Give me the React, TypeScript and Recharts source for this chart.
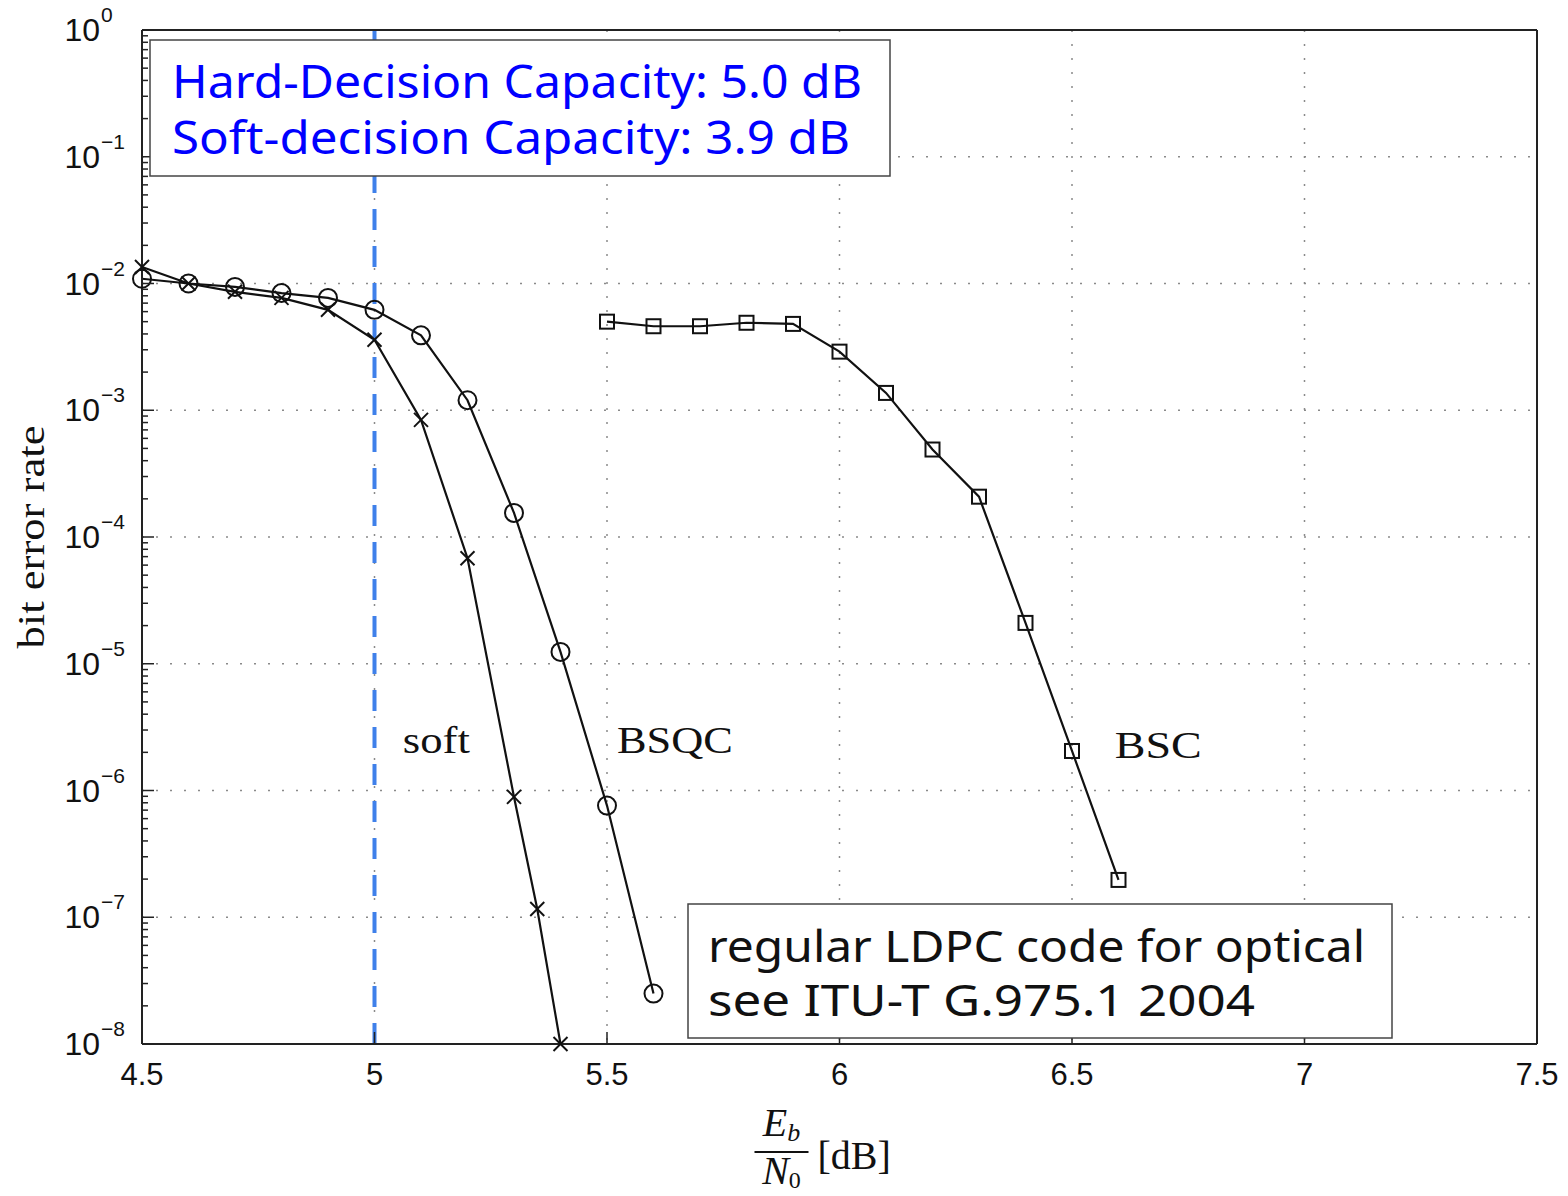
import React from 'react';
import { LineChart, Line, XAxis, YAxis, CartesianGrid, ReferenceLine, ReferenceDot } from 'recharts';

// Eb/N0 [dB] and bit error rate
const ebn0Soft = [4.5, 4.6, 4.7, 4.8, 4.9, 5.0, 5.1, 5.2, 5.3, 5.35, 5.4];
const berSoft = [1.35e-2, 1.0e-2, 8.6e-3, 7.7e-3, 6.2e-3, 3.6e-3, 8.4e-4, 6.8e-5, 8.9e-7, 1.16e-7, 1.0e-8];

const ebn0Bsqc = [4.5, 4.6, 4.7, 4.8, 4.9, 5.0, 5.1, 5.2, 5.3, 5.4, 5.5, 5.6];
const berBsqc = [1.09e-2, 1.0e-2, 9.4e-3, 8.4e-3, 7.7e-3, 6.2e-3, 3.9e-3, 1.2e-3, 1.55e-4, 1.24e-5, 7.6e-7, 2.5e-8];

const ebn0Bsc = [5.5, 5.6, 5.7, 5.8, 5.9, 6.0, 6.1, 6.2, 6.3, 6.4, 6.5, 6.6];
const berBsc = [5.0e-3, 4.6e-3, 4.6e-3, 4.9e-3, 4.8e-3, 2.9e-3, 1.37e-3, 4.9e-4, 2.08e-4, 2.1e-5, 2.05e-6, 1.97e-7];

const xTicks = [4.5, 5, 5.5, 6, 6.5, 7, 7.5];
const xTickLabels = ['4.5', '5', '5.5', '6', '6.5', '7', '7.5'];
const yMajorTicks = [1, 1e-1, 1e-2, 1e-3, 1e-4, 1e-5, 1e-6, 1e-7, 1e-8];
const yTickExponents = ['0', '\u22121', '\u22122', '\u22123', '\u22124', '\u22125', '\u22126', '\u22127', '\u22128'];
// MATLAB-style log minor ticks (2..9 x each decade)
const yMinorTicks = yMajorTicks.slice(1).flatMap((d) => [2, 3, 4, 5, 6, 7, 8, 9].map((m) => m * d));
const yTicks = [...yMajorTicks, ...yMinorTicks].sort((a, b) => a - b);

const capacityLine = 5.0;

const curveLabels = [
  { text: 'soft', x: 5.061, y: 1.98e-6, len: 67 },
  { text: 'BSQC', x: 5.5215, y: 1.98e-6, len: 116 },
  { text: 'BSC', x: 6.592, y: 1.8e-6, len: 87 },
];

const toPoints = (xs: number[], ys: number[]) => xs.map((x, i) => ({ ebn0: x, ber: ys[i] }));
const softData = toPoints(ebn0Soft, berSoft);
const bsqcData = toPoints(ebn0Bsqc, berBsqc);
const bscData = toPoints(ebn0Bsc, berBsc);

const sans = "'Liberation Sans', Arial, sans-serif";
const serif = "'Liberation Serif', 'Times New Roman', serif";
const comic = "'Comic Sans MS', 'Noto Sans', sans-serif";
const ink = '#111';
const gridColor = '#8a8a8a';
const frame = { stroke: '#222', strokeWidth: 2 };

const isMajor = (v: number) => yMajorTicks.indexOf(v) >= 0;

const LeftTick = ({ x, y, payload }: any) => {
  const i = yMajorTicks.indexOf(payload.value);
  return (
    <g>
      <line x1={x} x2={x + (i >= 0 ? 12 : 6)} y1={y} y2={y} stroke="#222" strokeWidth={1.5} />
      {i >= 0 && (
        <>
          <text x={x - 42} y={y + 11} textAnchor="end" fontSize={32} fontFamily={sans} fill={ink}>
            10
          </text>
          <text x={x - 41} y={y - 8} fontSize={21} fontFamily={sans} fill={ink}>
            {yTickExponents[i]}
          </text>
        </>
      )}
    </g>
  );
};

const RightTick = ({ x, y, payload }: any) => (
  <line x1={x} x2={x - (isMajor(payload.value) ? 12 : 6)} y1={y} y2={y} stroke="#222" strokeWidth={1.5} />
);

const BottomTick = ({ x, y, payload }: any) => {
  const i = xTicks.indexOf(payload.value);
  return (
    <g>
      <line x1={x} x2={x} y1={y} y2={y - 12} stroke="#222" strokeWidth={1.5} />
      <text x={x} y={y + 41} textAnchor="middle" fontSize={31} fontFamily={sans} fill={ink}>
        {xTickLabels[i]}
      </text>
    </g>
  );
};

const TopTick = ({ x, y }: any) => (
  <line x1={x} x2={x} y1={y} y2={y + 12} stroke="#222" strokeWidth={1.5} />
);

const XLabel = ({ viewBox }: any) => {
  const cx = viewBox.x + viewBox.width / 2 - 58;
  const top = viewBox.y;
  return (
    <g fontFamily={serif} fill={ink}>
      <text x={cx} y={top + 92} textAnchor="middle" fontSize={40} fontStyle="italic">
        E<tspan fontSize={26} dy={5}>b</tspan>
      </text>
      <line x1={cx - 27} x2={cx + 27} y1={top + 108} y2={top + 108} stroke={ink} strokeWidth={2} />
      <text x={cx} y={top + 140} textAnchor="middle" fontSize={40} fontStyle="italic">
        N<tspan fontSize={24} dy={4} fontStyle="normal">0</tspan>
      </text>
      <text x={cx + 36} y={top + 125} fontSize={40}>
        [dB]
      </text>
    </g>
  );
};

const YLabel = ({ viewBox }: any) => {
  const x = viewBox.x + 44;
  const cy = viewBox.y + viewBox.height / 2;
  return (
    <text
      x={x}
      y={cy}
      transform={`rotate(-90, ${x}, ${cy})`}
      textAnchor="middle"
      fontSize={38}
      fontFamily={serif}
      fill={ink}
      textLength={223}
      lengthAdjust="spacingAndGlyphs"
    >
      bit error rate
    </text>
  );
};

const Cross = ({ cx, cy }: any) => (
  <g stroke={ink} strokeWidth={2}>
    <line x1={cx - 7} y1={cy - 7} x2={cx + 7} y2={cy + 7} />
    <line x1={cx - 7} y1={cy + 7} x2={cx + 7} y2={cy - 7} />
  </g>
);

const Ring = ({ cx, cy }: any) => <circle cx={cx} cy={cy} r={9} fill="none" stroke={ink} strokeWidth={2} />;

const Box = ({ cx, cy }: any) => (
  <rect x={cx - 7} y={cy - 7} width={14} height={14} fill="none" stroke={ink} strokeWidth={2} />
);

export default function App() {
  return (
    <div style={{ position: 'absolute', left: 0, top: 0, width: 1568, height: 1196, background: '#fff' }}>
      <LineChart width={1568} height={1196} margin={{ top: 29, right: 30, bottom: 0, left: 0 }}>
        <CartesianGrid stroke={gridColor} strokeWidth={1.5} strokeDasharray="2 12" horizontal={false} />
        {yMajorTicks.map((t) => (
          <ReferenceLine key={`g${t}`} y={t} stroke={gridColor} strokeWidth={1.5} strokeDasharray="2 12" />
        ))}
        <XAxis
          dataKey="ebn0"
          type="number"
          domain={[4.5, 7.5]}
          ticks={xTicks}
          interval={0}
          height={152}
          tickSize={0}
          tickMargin={0}
          tickLine={false}
          tick={<BottomTick />}
          axisLine={frame}
          label={{ content: XLabel }}
        />
        <XAxis
          xAxisId="top"
          orientation="top"
          type="number"
          domain={[4.5, 7.5]}
          ticks={xTicks}
          interval={0}
          height={1}
          tickSize={0}
          tickMargin={0}
          tickLine={false}
          tick={<TopTick />}
          axisLine={frame}
        />
        <YAxis
          scale="log"
          type="number"
          domain={[1e-8, 1]}
          ticks={yTicks}
          interval={0}
          width={142}
          tickSize={0}
          tickMargin={0}
          tickLine={false}
          tick={<LeftTick />}
          axisLine={frame}
          label={{ content: YLabel }}
        />
        <YAxis
          yAxisId="right"
          orientation="right"
          scale="log"
          type="number"
          domain={[1e-8, 1]}
          ticks={yTicks}
          interval={0}
          width={1}
          tickSize={0}
          tickMargin={0}
          tickLine={false}
          tick={<RightTick />}
          axisLine={frame}
        />
        <Line
          data={softData}
          dataKey="ber"
          stroke={ink}
          strokeWidth={2.2}
          isAnimationActive={false}
          dot={(p: any) => <Cross key={`s${p.index}`} cx={p.cx} cy={p.cy} />}
        />
        <Line
          data={bsqcData}
          dataKey="ber"
          stroke={ink}
          strokeWidth={2.2}
          isAnimationActive={false}
          dot={(p: any) => <Ring key={`q${p.index}`} cx={p.cx} cy={p.cy} />}
        />
        <Line
          data={bscData}
          dataKey="ber"
          stroke={ink}
          strokeWidth={2.2}
          isAnimationActive={false}
          dot={(p: any) => <Box key={`b${p.index}`} cx={p.cx} cy={p.cy} />}
        />
        <ReferenceLine x={capacityLine} stroke="#3f80ea" strokeWidth={4} strokeDasharray="21 16" />
        {curveLabels.map((c) => (
          <ReferenceDot
            key={c.text}
            x={c.x}
            y={c.y}
            r={1}
            fill="none"
            stroke="none"
            label={{
              content: ({ viewBox }: any) => (
                <text
                  x={viewBox.x + 1}
                  y={viewBox.y + 1}
                  fontSize={38}
                  fontFamily={serif}
                  fill={ink}
                  textLength={c.len}
                  lengthAdjust="spacingAndGlyphs"
                >
                  {c.text}
                </text>
              ),
            }}
          />
        ))}
      </LineChart>
      <svg width={1568} height={1196} style={{ position: 'absolute', left: 0, top: 0, pointerEvents: 'none' }}>
        <rect x={150} y={40} width={740} height={136} fill="#fff" stroke="#444" strokeWidth={1.5} />
        <text x={172} y={98} fontSize={46} fontFamily={comic} fill="#0000ff" textLength={690} lengthAdjust="spacingAndGlyphs">
          Hard-Decision Capacity: 5.0 dB
        </text>
        <text x={172} y={154} fontSize={46} fontFamily={comic} fill="#0000ff" textLength={678} lengthAdjust="spacingAndGlyphs">
          Soft-decision Capacity: 3.9 dB
        </text>
        <rect x={688} y={904} width={704} height={134} fill="#fff" stroke="#444" strokeWidth={1.5} />
        <text x={708} y={962} fontSize={44} fontFamily={comic} fill={ink} textLength={657} lengthAdjust="spacingAndGlyphs">
          regular LDPC code for optical
        </text>
        <text x={708} y={1016} fontSize={44} fontFamily={comic} fill={ink} textLength={547} lengthAdjust="spacingAndGlyphs">
          see ITU-T G.975.1 2004
        </text>
      </svg>
    </div>
  );
}
